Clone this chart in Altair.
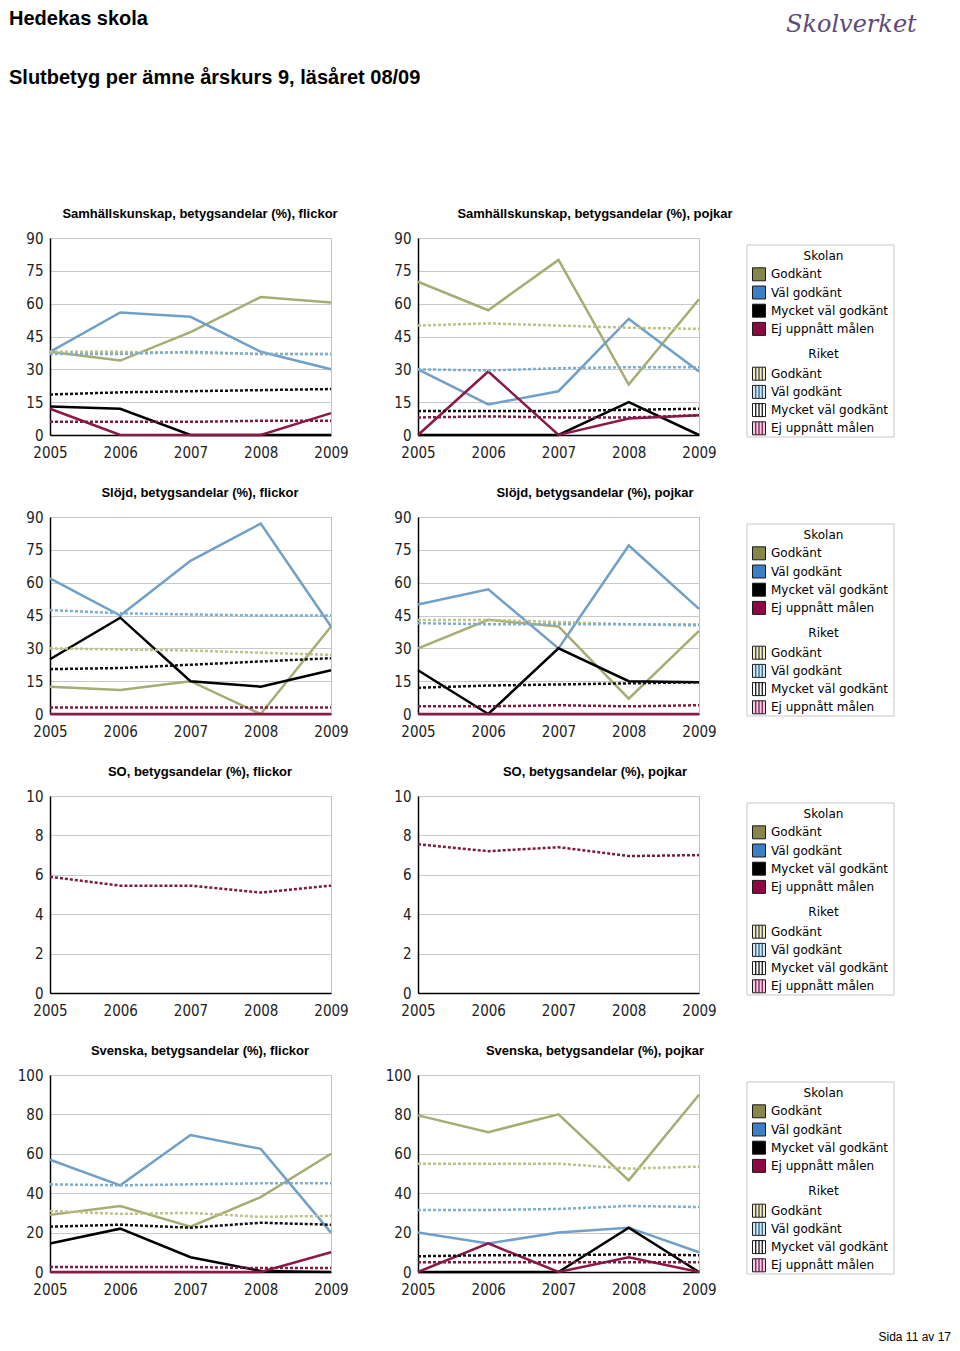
import altair as alt
import pandas as pd

YEARS = [2005, 2006, 2007, 2008, 2009]
GRADES = ["Godkänt", "Väl godkänt", "Mycket väl godkänt", "Ej uppnått målen"]

# ---- Samhällskunskap ----
SAMH_F_SKOLAN = {
    "Godkänt": [38, 34, 47, 63, 60.5],
    "Väl godkänt": [38, 56, 54, 38, 30],
    "Mycket väl godkänt": [13, 12, 0, 0, 0],
    "Ej uppnått målen": [12, 0, 0, 0, 10],
}
SAMH_F_RIKET = {
    "Godkänt": [38, 38, 37.5, 37, 37],
    "Väl godkänt": [37, 37, 38, 37, 37],
    "Mycket väl godkänt": [18.5, 19.5, 20, 20.5, 21],
    "Ej uppnått målen": [6, 6, 6, 6.5, 6.5],
}
SAMH_P_SKOLAN = {
    "Godkänt": [70, 57, 80, 23, 62],
    "Väl godkänt": [30, 14, 20, 53, 29],
    "Mycket väl godkänt": [0, 0, 0, 15, 0],
    "Ej uppnått målen": [0, 29, 0, 7.5, 9],
}
SAMH_P_RIKET = {
    "Godkänt": [50, 51, 50, 49, 48.5],
    "Väl godkänt": [30, 29.5, 30.5, 31, 31],
    "Mycket väl godkänt": [11, 11, 11, 11.5, 12],
    "Ej uppnått målen": [8, 8.5, 8, 8, 9],
}
# ---- Slöjd ----
SLOJD_F_SKOLAN = {
    "Godkänt": [12.5, 11, 15, 0, 40],
    "Väl godkänt": [62, 45, 70, 87, 40],
    "Mycket väl godkänt": [25, 44, 15, 12.5, 20],
    "Ej uppnått målen": [0, 0, 0, 0, 0],
}
SLOJD_F_RIKET = {
    "Godkänt": [30, 29.5, 29, 28, 27],
    "Väl godkänt": [47.5, 46, 45.5, 45, 45],
    "Mycket väl godkänt": [20.5, 21, 22.5, 24, 25.5],
    "Ej uppnått målen": [3, 3, 3, 3, 3],
}
SLOJD_P_SKOLAN = {
    "Godkänt": [30, 43, 40, 7, 38],
    "Väl godkänt": [50, 57, 30, 77, 48],
    "Mycket väl godkänt": [20, 0, 30, 15, 14.5],
    "Ej uppnått målen": [0, 0, 0, 0, 0],
}
SLOJD_P_RIKET = {
    "Godkänt": [43, 43, 42, 41, 41],
    "Väl godkänt": [41.5, 41, 41, 41, 40.5],
    "Mycket väl godkänt": [12, 13, 13.5, 14, 14.5],
    "Ej uppnått målen": [3.5, 3.5, 4, 3.5, 4],
}
# ---- SO ----
SO_F_SKOLAN = {}
SO_F_RIKET = {"Ej uppnått målen": [5.9, 5.45, 5.45, 5.1, 5.45]}
SO_P_SKOLAN = {}
SO_P_RIKET = {"Ej uppnått målen": [7.55, 7.2, 7.4, 6.95, 7.0]}
# ---- Svenska ----
SV_F_SKOLAN = {
    "Godkänt": [29, 33.5, 23, 38, 60],
    "Väl godkänt": [57, 44, 69.5, 62.5, 20],
    "Mycket väl godkänt": [14.5, 22, 7.5, 0.5, 0],
    "Ej uppnått målen": [0, 0, 0, 0, 10],
}
SV_F_RIKET = {
    "Godkänt": [31, 29.5, 30, 28, 28.5],
    "Väl godkänt": [44.5, 44, 44.5, 45, 45],
    "Mycket väl godkänt": [23, 24, 22.5, 25, 24],
    "Ej uppnått målen": [2.5, 2.5, 2.5, 2, 2],
}
SV_P_SKOLAN = {
    "Godkänt": [79.5, 71, 80, 46.5, 90],
    "Väl godkänt": [20, 14.5, 20, 22.5, 10],
    "Mycket väl godkänt": [0, 0, 0, 22.5, 0],
    "Ej uppnått målen": [0, 14.5, 0, 7.5, 0],
}
SV_P_RIKET = {
    "Godkänt": [55, 55, 55, 52.5, 53.5],
    "Väl godkänt": [31.5, 31.5, 32, 33.5, 33],
    "Mycket väl godkänt": [8, 8.5, 8.5, 9, 8.5],
    "Ej uppnått målen": [5, 5, 5, 5, 5],
}

TITLES = [
    ("Samhällskunskap, betygsandelar (%), flickor", "Samhällskunskap, betygsandelar (%), pojkar"),
    ("Slöjd, betygsandelar (%), flickor", "Slöjd, betygsandelar (%), pojkar"),
    ("SO, betygsandelar (%), flickor", "SO, betygsandelar (%), pojkar"),
    ("Svenska, betygsandelar (%), flickor", "Svenska, betygsandelar (%), pojkar"),
]

# styles
SKOLAN_LINE = {"Godkänt": "#a7ac73", "Väl godkänt": "#70a0c8", "Mycket väl godkänt": "#000000", "Ej uppnått målen": "#8b1846"}
RIKET_LINE = {"Godkänt": "#bfc287", "Väl godkänt": "#7eaed0", "Mycket väl godkänt": "#111111", "Ej uppnått målen": "#7d1a44"}
SKOLAN_SWATCH = {"Godkänt": "#86864a", "Väl godkänt": "#3c7fc4", "Mycket väl godkänt": "#000000", "Ej uppnått målen": "#8b0a42"}
RIKET_SWATCH = {"Godkänt": "#f1eec4", "Väl godkänt": "#d3eaf5", "Mycket väl godkänt": "#ffffff", "Ej uppnått målen": "#f5cde8"}
RIKET_STRIPE = {"Godkänt": "#333333", "Väl godkänt": "#24507a", "Mycket väl godkänt": "#000000", "Ej uppnått målen": "#6e0f3e"}

AXFONT = "Liberation Sans Narrow, DejaVu Sans Condensed, sans-serif"
PW, PH = 281, 197


def panel(title, skolan, riket, ymax, ystep, dx):
    xs = alt.Scale(domain=[YEARS[0], YEARS[-1]], nice=False, zero=False)
    ys = alt.Scale(domain=[0, ymax], nice=False)
    xa = alt.Axis(values=YEARS, format="d", title=None, grid=False, labelFlush=False,
                  labelPadding=10, labelOverlap=False)
    ya = alt.Axis(values=list(range(0, ymax + 1, ystep)), title=None, grid=True,
                  labelFlush=False, labelPadding=7, labelOverlap=False)
    layers = []
    for group, data, palette in [("Skolan", skolan, SKOLAN_LINE), ("Riket", riket, RIKET_LINE)]:
        for g in GRADES:
            if g not in data:
                continue
            df = pd.DataFrame({"År": YEARS, "Andel": data[g], "Betyg": g, "Grupp": group})
            kw = dict(color=palette[g], strokeWidth=2.5)
            if group == "Riket":
                kw["strokeDash"] = [3, 2]
            layers.append(
                alt.Chart(df).mark_line(**kw).encode(
                    x=alt.X("År:Q", scale=xs, axis=xa),
                    y=alt.Y("Andel:Q", scale=ys, axis=ya),
                )
            )
    return alt.layer(*layers).properties(
        width=PW, height=PH, title=alt.TitleParams(title, dx=dx)
    )


def legend(extra=None):
    one = pd.DataFrame({"a": [0]})
    box = alt.Chart(one).mark_rect(fill="white", stroke="#c8c8c8", strokeWidth=1).encode(
        x=alt.value(-39), x2=alt.value(108), y=alt.value(7), y2=alt.value(199)
    )
    heads = pd.DataFrame({"label": ["Skolan", "Riket"], "px": [37.5, 37.5], "py": [18.0, 116.3]})
    items = []
    for i, g in enumerate(GRADES):
        items.append({"label": g, "grp": "Skolan", "py": 36.3 + 18.2 * i, "fill": SKOLAN_SWATCH[g]})
    for i, g in enumerate(GRADES):
        items.append({"label": g, "grp": "Riket", "py": 135.7 + 18.2 * i, "fill": RIKET_SWATCH[g]})
    it = pd.DataFrame(items)
    it["x1"] = -33.5
    it["x2"] = -20.5
    it["y1"] = it["py"] - 6.5
    it["y2"] = it["py"] + 6.5
    it["tx"] = -15.0
    stripes = []
    for i, g in enumerate(GRADES):
        py = 135.7 + 18.2 * i
        for k in range(3):
            stripes.append({"sx": -30.25 + 3.25 * k, "y1": py - 6.5, "y2": py + 6.5, "c": RIKET_STRIPE[g]})
    st = pd.DataFrame(stripes)

    head_layer = alt.Chart(heads).mark_text(font="DejaVu Sans", fontSize=12, color="#000",
                                             align="center", baseline="middle").encode(
        x=alt.X("px:Q", scale=None, axis=None), y=alt.Y("py:Q", scale=None, axis=None), text="label:N")
    sw_layer = alt.Chart(it).mark_rect(stroke="#1a1a1a", strokeWidth=1).encode(
        x=alt.X("x1:Q", scale=None, axis=None), x2="x2:Q",
        y=alt.Y("y1:Q", scale=None, axis=None), y2="y2:Q",
        fill=alt.Fill("fill:N", scale=None))
    st_layer = alt.Chart(st).mark_rule(strokeWidth=1.2).encode(
        x=alt.X("sx:Q", scale=None, axis=None),
        y=alt.Y("y1:Q", scale=None, axis=None), y2="y2:Q",
        color=alt.Color("c:N", scale=None))
    tx_layer = alt.Chart(it).mark_text(font="DejaVu Sans", fontSize=12, color="#000",
                                       align="left", baseline="middle").encode(
        x=alt.X("tx:Q", scale=None, axis=None), y=alt.Y("py:Q", scale=None, axis=None), text="label:N")
    layers = [box, sw_layer, st_layer, head_layer, tx_layer]
    if extra:
        layers += extra
    return alt.layer(*layers).properties(width=108, height=PH,
                                         view=alt.ViewBackground(stroke="transparent"))


def text_layer(txt, x, y, **kw):
    return alt.Chart(pd.DataFrame({"t": [txt]})).mark_text(**kw).encode(
        x=alt.value(x), y=alt.value(y), text="t:N")


header = [
    text_layer("Hedekas skola", -777, -229, font="Liberation Sans", fontSize=20, fontWeight="bold",
               color="#000", align="left", baseline="top"),
    text_layer("Slutbetyg per ämne årskurs 9, läsåret 08/09", -777, -170, font="Liberation Sans",
               fontSize=20, fontWeight="bold", color="#000", align="left", baseline="top"),
    text_layer("Skolverket", 0, -225, font="DejaVu Serif", fontSize=24, fontStyle="italic",
               color="#5e4a78", align="left", baseline="top"),
]
footer = [
    text_layer("Sida 11 av 17", 165, 266, font="Liberation Sans", fontSize=12, color="#000",
               align="right", baseline="alphabetic"),
]

DATA = [
    (SAMH_F_SKOLAN, SAMH_F_RIKET, SAMH_P_SKOLAN, SAMH_P_RIKET, 90, 15),
    (SLOJD_F_SKOLAN, SLOJD_F_RIKET, SLOJD_P_SKOLAN, SLOJD_P_RIKET, 90, 15),
    (SO_F_SKOLAN, SO_F_RIKET, SO_P_SKOLAN, SO_P_RIKET, 10, 2),
    (SV_F_SKOLAN, SV_F_RIKET, SV_P_SKOLAN, SV_P_RIKET, 100, 20),
]

cells = []
for r, (fs, fr, ps, pr, ymax, ystep) in enumerate(DATA):
    tf, tp = TITLES[r]
    cells.append(panel(tf, fs, fr, ymax, ystep, 9.5))
    cells.append(panel(tp, ps, pr, ymax, ystep, 36.5))
    extra = header if r == 0 else (footer if r == 3 else None)
    cells.append(legend(extra))

chart = alt.concat(
    *cells, columns=3, spacing={"row": 82, "column": 87}, bounds="flush"
).properties(
    padding=0, background="white"
).configure_view(
    stroke="#c0c0c0", strokeWidth=1
).configure_axis(
    labelFont=AXFONT, labelFontSize=15, labelColor="#222", ticks=False,
    domainColor="#000", domainWidth=1.5, gridColor="#c8c8c8", gridWidth=1
).configure_title(
    font="Liberation Sans", fontSize=13, fontWeight="bold", color="#000",
    anchor="middle", frame="group", offset=10
)

chart.save("out.html", embed_options={"renderer": "svg", "actions": False})
